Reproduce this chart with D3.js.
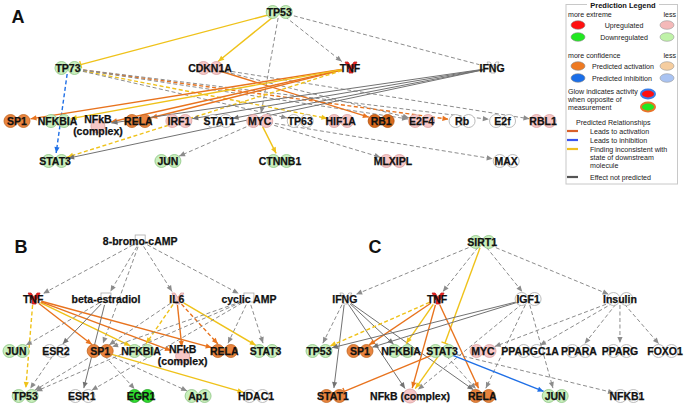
<!DOCTYPE html>
<html><head><meta charset="utf-8">
<script src="https://cdn.jsdelivr.net/npm/d3@7"></script>
<style>
body{margin:0;background:#fff}
svg{display:block}
text{font-family:"Liberation Sans",Arial,sans-serif}
</style>
</head><body>
<svg id="chart" width="685" height="404"></svg>
<script>
// ---------------- DATA ----------------
// Panel A
const A_rows = [
  ["TP53"],
  ["TP73","CDKN1A","TNF","IFNG"],
  ["SP1","NFKBIA","NFkB (complex)","RELA","IRF1","STAT1","MYC","TP63","HIF1A","RB1","E2F4","Rb","E2f","RBL1"],
  ["STAT3","JUN","CTNNB1","MLXIPL","MAX"]
];
const A_slots = [[6.48],[1.26,4.77,8.23,11.74],[0,1,2,3,4,5,6,7,8,9,10,11,12,13],[0.94,3.73,6.5,9.29,12.09]];
const A_up = ["TNF"];
const A_upLight = ["CDKN1A","NFkB (complex)","IRF1","MYC","HIF1A","E2F4","RBL1","MLXIPL"];
const A_downLight = ["TP53","TP73","NFKBIA","STAT3","JUN","CTNNB1"];
const A_down = [];
const A_act = ["SP1","RELA"];
const A_actStrong = ["RB1"];
const A_edges = [
  ["TP53","TP73","Y","s","b"],["TP53","CDKN1A","Y","s","a"],["TP53","TNF","G","d","a"],
  ["TP53","IFNG","G","d","n"],["TP53","MYC","G","d","a"],
  ["TP73","STAT3","B","d","a"],["TP73","Rb","O","d","a"],["TP73","HIF1A","Y","d","a"],
  ["TP73","TP63","G","d","a"],["TP73","E2F4","G","d","a"],["TP73","E2f","G","d","a"],
  ["CDKN1A","RB1","O","s","a"],["CDKN1A","RBL1","G","d","a"],["CDKN1A","E2F4","G","d","a"],
  ["TNF","SP1","O","s","a"],["TNF","NFkB (complex)","O","s","a"],["TNF","RELA","O","s","a"],
  ["TNF","NFKBIA","Y","s","a"],["TNF","STAT3","Y","d","a"],
  ["IFNG","STAT1","G","s","a"],["IFNG","IRF1","G","s","a"],["IFNG","NFkB (complex)","G","s","a"],
  ["IFNG","STAT3","G","s","a"],
  ["MYC","JUN","G","d","a"],["MYC","CTNNB1","Y","s","a"],["MYC","MLXIPL","G","d","a"],["MYC","MAX","G","d","a"]
];

// Panel B
const B_rows = [
  ["8-bromo-cAMP"],
  ["TNF","beta-estradiol","IL6","cyclic AMP"],
  ["JUN","ESR2","SP1","NFKBIA","NFkB (complex)","RELA","STAT3"],
  ["TP53","ESR1","EGR1","Ap1","HDAC1"]
];
const B_slots = [[2.98],[0.41,2.16,3.86,5.59],[0,0.96,2.02,3.0,4.0,5.0,5.99],[0.22,1.58,3.0,4.37,5.76]];
const B_up = ["TNF"];
const B_upLight = ["IL6","NFkB (complex)"];
const B_downLight = ["JUN","NFKBIA","STAT3","TP53","Ap1"];
const B_down = ["EGR1"];
const B_act = ["SP1","RELA"];
const B_actStrong = [];
const B_edges = [
  ["8-bromo-cAMP","TNF","G","d","a"],["8-bromo-cAMP","beta-estradiol","G","d","a"],
  ["8-bromo-cAMP","IL6","G","d","a"],["8-bromo-cAMP","cyclic AMP","G","d","a"],
  ["8-bromo-cAMP","SP1","G","d","a"],
  ["TNF","TP53","Y","d","a"],["TNF","SP1","O","s","a"],["TNF","NFKBIA","Y","s","a"],
  ["TNF","NFkB (complex)","O","s","a"],["TNF","RELA","O","s","a"],
  ["beta-estradiol","JUN","G","d","a"],["beta-estradiol","ESR2","G","s","a"],["beta-estradiol","ESR1","G","s","a"],
  ["IL6","SP1","G","d","a"],["IL6","NFKBIA","Y","d","a"],["IL6","NFkB (complex)","O","s","a"],
  ["IL6","RELA","O","d","a"],["IL6","STAT3","Y","s","a"],
  ["cyclic AMP","RELA","G","d","a"],["cyclic AMP","STAT3","G","d","a"],["cyclic AMP","SP1","G","d","a"],
  ["cyclic AMP","ESR1","G","d","a"],["cyclic AMP","TP53","G","d","a"],
  ["SP1","HDAC1","Y","s","a"],["SP1","EGR1","G","d","a"],["SP1","Ap1","G","d","a"],["SP1","TP53","G","d","a"],
  ["ESR2","TP53","G","d","a"]
];

// Panel C
const C_rows = [
  ["SIRT1"],
  ["IFNG","TNF","IGF1","Insulin"],
  ["TP53","SP1","NFKBIA","STAT3","MYC","PPARGC1A","PPARA","PPARG","FOXO1"],
  ["STAT1","NFkB (complex)","RELA","JUN","NFKB1"]
];
const C_slots = [[3.98],[0.63,2.88,5.1,7.34],[0,1,2,3,4,5.15,6.34,7.34,8.44],[0.34,2.22,3.98,5.76,7.51]];
const C_up = ["TNF"];
const C_upLight = ["MYC","NFkB (complex)"];
const C_downLight = ["SIRT1","TP53","NFKBIA","STAT3","JUN"];
const C_down = [];
const C_act = ["SP1","STAT1","RELA"];
const C_actStrong = [];
const C_edges = [
  ["SIRT1","IFNG","G","d","a"],["SIRT1","TNF","G","d","a"],["SIRT1","IGF1","G","d","a"],
  ["SIRT1","Insulin","G","d","a"],["SIRT1","STAT3","Y","s","b"],
  ["IFNG","TP53","G","d","a"],["IFNG","STAT1","G","s","a"],["IFNG","NFkB (complex)","G","s","a"],
  ["IFNG","NFKBIA","G","s","a"],["IFNG","RELA","G","s","a"],
  ["TNF","TP53","Y","d","a"],["TNF","SP1","O","s","a"],["TNF","NFKBIA","Y","s","a"],
  ["TNF","NFkB (complex)","O","s","a"],["TNF","RELA","O","s","a"],
  ["IGF1","TP53","G","s","a"],["IGF1","SP1","G","s","a"],["IGF1","NFkB (complex)","G","d","a"],
  ["IGF1","RELA","G","d","a"],["IGF1","JUN","G","d","a"],
  ["Insulin","MYC","G","d","a"],["Insulin","PPARGC1A","G","d","a"],["Insulin","PPARA","G","d","a"],
  ["Insulin","PPARG","G","d","a"],["Insulin","FOXO1","G","d","a"],
  ["STAT3","STAT1","O","s","b"],["STAT3","NFkB (complex)","Y","s","a"],["STAT3","RELA","G","d","a"],
  ["STAT3","JUN","B","s","a"],["STAT3","NFKB1","G","d","a"]
];

const cytokines = ["TNF","IFNG","IL6"];
const chemicals = ["8-bromo-cAMP","beta-estradiol","cyclic AMP"];
const complexes = ["NFkB (complex)"];

const legendNodeRows = ["Upregulated","Downregulated","Predicted activation","Predicted inhibition"];
const legendLineRows = ["Leads to activation","Leads to inhibition","Finding inconsistent with|state of downstream|molecule","Effect not predicted"];

// ---------------- STYLE / LAYOUT ----------------
const svg = d3.select("#chart");
const defs = svg.append("defs");
const lineColor = {O:"#e8731e", Y:"#efc21a", G:"#8c8c8c", GS:"#727272", B:"#1f6fe6"};
Object.entries(lineColor).forEach(([k,c])=>{
  defs.append("marker").attr("id","m_"+k+"_a").attr("viewBox","-7 -4 8 8")
    .attr("refX",0).attr("refY",0).attr("markerWidth",8).attr("markerHeight",8)
    .attr("markerUnits","userSpaceOnUse").attr("orient","auto")
    .append("path").attr("d","M-6,-2.6L0,0L-6,2.6Z").attr("fill",c);
  defs.append("marker").attr("id","m_"+k+"_b").attr("viewBox","-2 -5 4 10")
    .attr("refX",0).attr("refY",0).attr("markerWidth",4).attr("markerHeight",10)
    .attr("markerUnits","userSpaceOnUse").attr("orient","auto")
    .append("path").attr("d","M0,-3.6L0,3.6").attr("stroke",c).attr("stroke-width",1.4);
});

const stateStyle = {
  up:{fill:"#f0201e", stroke:"#c02020"},
  upLight:{fill:"#f7c7c7", stroke:"#d9a0a0"},
  downLight:{fill:"#c9efbd", stroke:"#8cc483"},
  down:{fill:"#2fe02f", stroke:"#20a020"},
  act:{fill:"#e9843e", stroke:"#c0641f"},
  actStrong:{fill:"#da6a1d", stroke:"#b0520f"},
  none:{fill:"#ffffff", stroke:"#ababab"}
};

const panels = [
  {name:"A", rows:A_rows, slots:A_slots, edges:A_edges,
   states:{up:A_up,upLight:A_upLight,downLight:A_downLight,down:A_down,act:A_act,actStrong:A_actStrong},
   xDomain:[0,13], xRange:[17,543], yRange:[12,68,121,161], letter:[18,23], stacked:true},
  {name:"B", rows:B_rows, slots:B_slots, edges:B_edges,
   states:{up:B_up,upLight:B_upLight,downLight:B_downLight,down:B_down,act:B_act,actStrong:B_actStrong},
   xDomain:[0,6], xRange:[16,266], yRange:[241,299,351,396], letter:[21,253], stacked:true},
  {name:"C", rows:C_rows, slots:C_slots, edges:C_edges,
   states:{up:C_up,upLight:C_upLight,downLight:C_downLight,down:C_down,act:C_act,actStrong:C_actStrong},
   xDomain:[0,1], xRange:[319,360], yRange:[242,299,351,396], letter:[375,253], stacked:false}
];

function clip(p, q, rx, ry){
  const dx = q.x-p.x, dy = q.y-p.y, L = Math.hypot(dx,dy)||1;
  const ux = dx/L, uy = dy/L;
  const t = 1/Math.sqrt((ux/rx)**2 + (uy/ry)**2);
  return {x:p.x+ux*Math.min(t,L/2), y:p.y+uy*Math.min(t,L/2)};
}

panels.forEach(p=>{
  const x = d3.scaleLinear().domain(p.xDomain).range(p.xRange);
  const y = d3.scaleOrdinal().domain(d3.range(p.rows.length)).range(p.yRange);
  const nodes = [];
  p.rows.forEach((row,ri)=>row.forEach((name,ci)=>{
    let st = "none";
    Object.entries(p.states).forEach(([k,arr])=>{ if(arr.includes(name)) st=k; });
    const type = cytokines.includes(name)?"cyto":chemicals.includes(name)?"chem":complexes.includes(name)?"complex":"gene";
    nodes.push({name, x:x(p.slots[ri][ci]), y:y(ri), st, type});
  }));
  const byName = new Map(nodes.map(n=>[n.name,n]));
  const anchor = n => (n.type==="complex" && p.stacked) ? {x:n.x, y:n.y+4} : {x:n.x, y:n.y};

  const g = svg.append("g").attr("class","panel-"+p.name);
  // edges
  g.append("g").selectAll("line").data(p.edges).join("line")
    .each(function(e){
      const s = anchor(byName.get(e[0])), t = anchor(byName.get(e[1]));
      const a = clip(s,t,9,6), b = clip(t,s,14,8);
      const key = (e[2]==="G" && e[3]==="s") ? "GS" : e[2];
      const sel = d3.select(this)
        .attr("x1",a.x).attr("y1",a.y).attr("x2",b.x).attr("y2",b.y)
        .attr("stroke",lineColor[key])
        .attr("stroke-width", e[2]==="G" ? 1 : 1.4)
        .attr("stroke-dasharray", e[3]==="d" ? "4,2.5" : null)
        .attr("fill","none");
      if(e[4]!=="n") sel.attr("marker-end","url(#m_"+key+"_"+e[4]+")");
    });

  // node shapes
  const ng = g.append("g").selectAll("g").data(nodes).join("g")
    .attr("transform",d=>`translate(${d.x},${d.y})`);
  ng.each(function(d){
    const s = stateStyle[d.st], el = d3.select(this);
    if(d.type==="gene"){
      [-6.5,6.5].forEach(dx=>el.append("circle").attr("cx",dx).attr("cy",0).attr("r",6.5)
        .attr("fill",s.fill).attr("stroke",s.stroke).attr("stroke-width",0.8));
    } else if(d.type==="complex"){
      el.append("circle").attr("cx",0).attr("cy",p.stacked?5:0).attr("r",7)
        .attr("fill",s.fill).attr("stroke",s.stroke).attr("stroke-width",0.8);
    } else if(d.type==="cyto"){
      el.append("path").attr("d","M-6,-6L-3,-6L0,-1.5L3,-6L6,-6L2,1.5L2,5L-2,5L-2,1.5Z")
        .attr("transform","translate(1,0)")
        .attr("fill",s.fill).attr("stroke",s.stroke).attr("stroke-width",0.8);
    } else {
      el.append("rect").attr("x",-5).attr("y",-6).attr("width",10).attr("height",9)
        .attr("fill","#fff").attr("stroke","#aaa").attr("stroke-width",0.8);
    }
  });
  // labels
  ng.each(function(d){
    const el = d3.select(this);
    const t = el.append("text").attr("text-anchor","middle")
      .attr("font-size",10.5).attr("font-weight","bold").attr("fill","#111")
      .attr("stroke","#111").attr("stroke-width",0.25);
    if(d.type==="complex" && p.stacked){
      t.append("tspan").attr("x",0).attr("y",2).text("NFkB");
      t.append("tspan").attr("x",0).attr("y",14).text("(complex)");
    } else {
      t.attr("y",4).text(d.name);
    }
  });
  // panel letter
  svg.append("text").attr("x",p.letter[0]).attr("y",p.letter[1]).attr("text-anchor","middle")
    .attr("font-size",18).attr("font-weight","bold").attr("fill","#111").text(p.name);
});

// ---------------- LEGEND ----------------
const lg = svg.append("g").attr("class","legend");
lg.append("rect").attr("x",566).attr("y",4.5).attr("width",111.5).attr("height",179.5)
  .attr("fill","#fff").attr("stroke","#c8c8c8").attr("stroke-width",1);
lg.append("rect").attr("x",587).attr("y",0).attr("width",72).attr("height",9).attr("fill","#fff");
lg.append("text").attr("x",623).attr("y",7.5).attr("text-anchor","middle").attr("font-size",7.5)
  .attr("font-weight","bold").attr("fill","#111").text("Prediction Legend");

const small = (x,y,t,anchor)=>lg.append("text").attr("x",x).attr("y",y).attr("font-size",7.1)
  .attr("fill","#222").attr("text-anchor",anchor||"start").text(t);
small(568,17,"more extreme"); small(676,17,"less","end");
small(568,58,"more confidence"); small(676,58,"less","end");

const legFills = [["#ff1010","#f4b9b9"],["#22e822","#bff2a8"],["#ee7a22","#f5cd9f"],["#1a6ee8","#a9c3f2"]];
const legY = [25,37,66,78];
legendNodeRows.forEach((t,i)=>{
  lg.append("ellipse").attr("cx",578).attr("cy",legY[i]).attr("rx",7).attr("ry",4.3)
    .attr("fill",legFills[i][0]).attr("stroke","#888").attr("stroke-width",0.6);
  lg.append("ellipse").attr("cx",667).attr("cy",legY[i]).attr("rx",7).attr("ry",4.3)
    .attr("fill",legFills[i][1]).attr("stroke","#999").attr("stroke-width",0.6);
  if(i<2) small(624,legY[i]+3,t,"middle"); else small(592,legY[i]+3,t);
});
small(568,94,"Glow indicates activity"); small(568,102,"when opposite of"); small(568,110,"measurement");
lg.append("ellipse").attr("cx",648).attr("cy",94).attr("rx",7).attr("ry",4.5)
  .attr("fill","#ff1010").attr("stroke","#3a7ee8").attr("stroke-width",2);
lg.append("ellipse").attr("cx",648).attr("cy",107).attr("rx",7).attr("ry",4.5)
  .attr("fill","#22e822").attr("stroke","#e8742a").attr("stroke-width",2);
small(576,125,"Predicted Relationships");
const legLineCol = ["#d9602a","#3a55ee","#f0c020","#555555"];
const legLineY = [131,140,149,177];
legendLineRows.forEach((t,i)=>{
  lg.append("line").attr("x1",567).attr("x2",578).attr("y1",legLineY[i]).attr("y2",legLineY[i])
    .attr("stroke",legLineCol[i]).attr("stroke-width",2.2);
  t.split("|").forEach((s,j)=>small(590,legLineY[i]+3+j*8,s));
});
</script>
</body></html>
